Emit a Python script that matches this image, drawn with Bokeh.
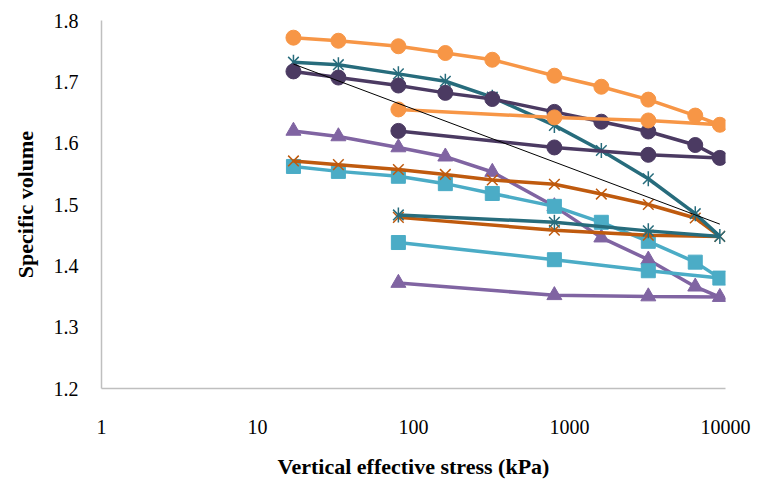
import math
from bokeh.plotting import figure
from bokeh.models import FixedTicker, PrintfTickFormatter
from bokeh.embed import file_html
from bokeh.resources import INLINE

# Vertical effective stress (kPa): loading then unloading steps
x_load = [17, 33, 80, 160, 320, 800, 1600, 3200, 6400, 9200]
x_unload = [3200, 800, 80]

orange_load = [1.772, 1.767, 1.758, 1.747, 1.736, 1.710, 1.692, 1.671, 1.645, 1.630]
orange_unload = [1.637, 1.642, 1.655]
dpurple_load = [1.717, 1.707, 1.694, 1.682, 1.672, 1.651, 1.635, 1.619, 1.597, 1.576]
dpurple_unload = [1.581, 1.593, 1.620]
teal_load = [1.732, 1.728, 1.713, 1.701, 1.675, 1.629, 1.588, 1.542, 1.485, 1.448]
teal_unload = [1.457, 1.471, 1.483]
brown_load = [1.571, 1.565, 1.557, 1.549, 1.540, 1.533, 1.517, 1.500, 1.478, 1.448]
brown_unload = [1.450, 1.458, 1.479]
blue_load = [1.562, 1.554, 1.546, 1.534, 1.518, 1.497, 1.471, 1.440, 1.406, 1.380]
blue_unload = [1.392, 1.410, 1.438]
purple_load = [1.620, 1.611, 1.593, 1.578, 1.553, 1.497, 1.446, 1.410, 1.366, 1.349]
purple_unload = [1.350, 1.352, 1.372]

ref_x = [17, 9200]
ref_y = [1.729, 1.468]

x_ticks = [1, 10, 100, 1000, 10000]
y_ticks = [1.2, 1.3, 1.4, 1.5, 1.6, 1.7, 1.8]

FONT = "Liberation Serif"

p = figure(width=761, height=481, x_axis_type="log", x_range=(1, 10000), y_range=(1.2, 1.8),
           output_backend="svg", toolbar_location=None,
           min_border_left=101, min_border_top=20, min_border_right=36, min_border_bottom=93)
p.outline_line_color = None
p.xgrid.grid_line_color = None
p.ygrid.grid_line_color = None

xs = x_load + x_unload

def series(yl, yu, color, marker, size=14, lw=3.5):
    ys = yl + yu
    p.line(xs, ys, line_color=color, line_width=lw)
    if marker == "star":
        p.scatter(xs, ys, marker="x", size=size, line_color=color, line_width=1.5)
        p.scatter(xs, ys, marker="dash", angle=math.pi / 2, size=size, line_color=color, line_width=1.5)
    elif marker == "x":
        p.scatter(xs, ys, marker="x", size=size, line_color=color, line_width=1.5)
    else:
        p.scatter(xs, ys, marker=marker, size=size, fill_color=color, line_color=color)

series(purple_load, purple_unload, "#8064A2", "triangle", size=15)
series(blue_load, blue_unload, "#4BACC6", "square", size=14)
series(brown_load, brown_unload, "#BF5A0E", "x", size=15)
series(teal_load, teal_unload, "#276C7C", "star", size=15)
series(dpurple_load, dpurple_unload, "#4B3A62", "circle", size=15)
series(orange_load, orange_unload, "#F79646", "circle", size=15)
p.line(ref_x, ref_y, line_color="black", line_width=1)

for ax in (p.xaxis[0], p.yaxis[0]):
    ax.axis_line_color = "#BFBFBF"
    ax.axis_line_width = 1.5
    ax.major_tick_line_color = None
    ax.minor_tick_line_color = None
    ax.major_label_text_font = FONT
    ax.major_label_text_font_size = "20px"
    ax.major_label_text_color = "black"
    ax.axis_label_text_font = FONT
    ax.axis_label_text_font_style = "bold"
    ax.axis_label_text_font_size = "22px"
    ax.axis_label_text_color = "black"

p.xaxis.ticker = FixedTicker(ticks=x_ticks)
p.xaxis.major_label_overrides = {t: str(t) for t in x_ticks}
p.xaxis.major_label_standoff = 25
p.xaxis.axis_label = "Vertical effective stress (kPa)"
p.xaxis.axis_label_standoff = 17

p.yaxis.ticker = FixedTicker(ticks=y_ticks)
p.yaxis.formatter = PrintfTickFormatter(format="%.1f")
p.yaxis.major_label_standoff = 17
p.yaxis.axis_label = "Specific volume"
p.yaxis.axis_label_standoff = 13

open("out.html", "w").write(file_html(p, INLINE))
